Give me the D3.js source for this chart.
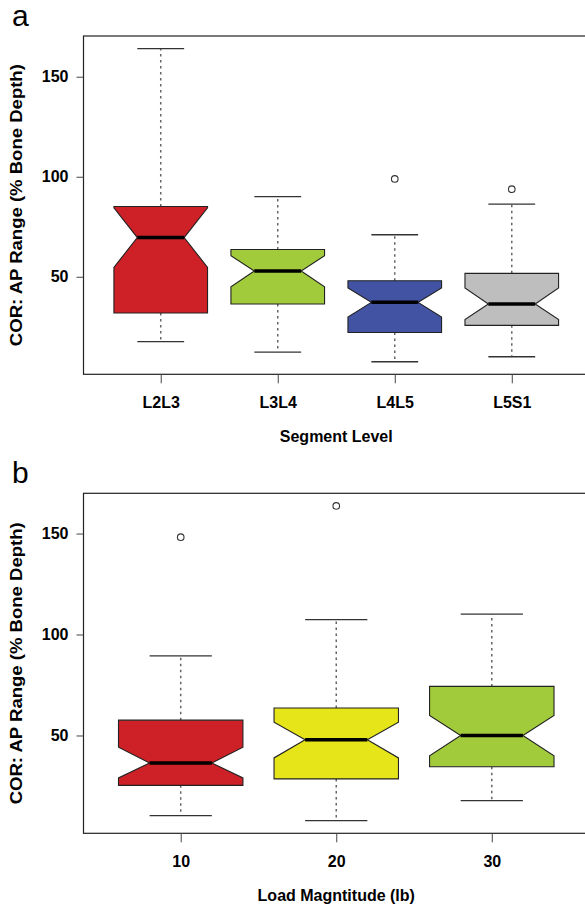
<!DOCTYPE html>
<html lang="en">
<head>
    <meta charset="UTF-8">
    <title>COR AP range boxplots</title>
    <script src="https://d3js.org/d3.v7.min.js"></script>
    <style>
        body, html { margin: 0; padding: 0; background: #fff; }
        svg text { font-family: "Liberation Sans", Arial, Helvetica, sans-serif; fill: #000; }
        .tick text { font-size: 16px; font-weight: bold; }
    </style>
</head>
<body>
<div id="chart"></div>
<script>
    // panel a: segment level
    var segLevels = ["L2L3", "L3L4", "L4L5", "L5S1"];
    var segColors = ["#CD2027", "#A2CB3B", "#4253A3", "#BEBEBE"];
    var segLowerWhisker = [17.6, 12.3, 7.5, 10.0];
    var segQ1 = [31.9, 36.4, 22.1, 25.7];
    var segLowerNotch = [54.7, 45.0, 29.9, 28.6];
    var segMedian = [69.6, 52.9, 37.2, 36.4];
    var segUpperNotch = [84.5, 60.5, 44.4, 44.4];
    var segQ3 = [85.1, 63.6, 48.0, 51.7];
    var segUpperWhisker = [164.1, 90.1, 71.0, 86.3];
    var segOutliers = [[], [], [98.9], [93.8]];

    // panel b: load magnitude
    var loadLevels = ["10", "20", "30"];
    var loadColors = ["#CD2027", "#E5E519", "#A2CB3B"];
    var loadLowerWhisker = [10.3, 7.8, 17.7];
    var loadQ1 = [25.3, 28.5, 34.5];
    var loadLowerNotch = [29.0, 38.9, 39.9];
    var loadMedian = [36.4, 47.9, 50.0];
    var loadUpperNotch = [44.2, 56.6, 59.9];
    var loadQ3 = [57.6, 63.6, 74.3];
    var loadUpperWhisker = [89.4, 107.4, 110.1];
    var loadOutliers = [[148.2], [163.7], []];

    var yTicks = [50, 100, 150];
    var yTitle = "COR: AP Range (% Bone Depth)";

    var W = 585, H = 904;
    var svg = d3.select("#chart").append("svg")
        .attr("width", W)
        .attr("height", H);

    function buildRows(levels, colors, lw, q1, ln, med, un, q3, uw, outs) {
        return levels.map((name, i) => ({
            name: name, pos: i + 1, color: colors[i],
            lw: lw[i], q1: q1[i], ln: ln[i], med: med[i], un: un[i], q3: q3[i], uw: uw[i],
            outs: outs[i]
        }));
    }

    function drawPanel(opts) {
        var rows = opts.rows;
        var allVals = [];
        rows.forEach(d => { allVals.push(d.lw, d.uw); d.outs.forEach(o => allVals.push(o)); });
        var lo = d3.min(allVals), hi = d3.max(allVals);
        var pad = (hi - lo) * 0.04;   // R style 4% extension

        var x = d3.scaleLinear().domain(opts.xDomain).range([opts.left, opts.right]);
        var y = d3.scaleLinear().domain([lo - pad, hi + pad]).range([opts.bottom, opts.top]);
        var unit = x(1) - x(0);
        var hw = 0.4 * unit;   // half box width (boxwex 0.8)

        var g = svg.append("g");

        // panel letter
        g.append("text")
            .attr("x", 12)
            .attr("y", opts.top - 10)
            .style("font-size", "30px")
            .text(opts.letter);

        var boxes = g.selectAll("g.box").data(rows).enter().append("g").attr("class", "box");

        // dashed whiskers
        ["q3", "q1"].forEach((k, j) => {
            var end = j === 0 ? "uw" : "lw";
            boxes.append("line")
                .attr("x1", d => x(d.pos)).attr("x2", d => x(d.pos))
                .attr("y1", d => y(d[k])).attr("y2", d => y(d[end]))
                .attr("stroke", "#666").attr("stroke-width", 1.5)
                .attr("stroke-dasharray", "2.5,3.5");
        });

        // staples
        ["uw", "lw"].forEach(k => {
            boxes.append("line")
                .attr("x1", d => x(d.pos) - hw / 2).attr("x2", d => x(d.pos) + hw / 2)
                .attr("y1", d => y(d[k])).attr("y2", d => y(d[k]))
                .attr("stroke", "#333").attr("stroke-width", 1.3);
        });

        // notched box
        boxes.append("path")
            .attr("d", d => {
                var c = x(d.pos);
                var pts = [
                    [c - hw, y(d.q1)], [c - hw, y(d.ln)], [c - hw / 2, y(d.med)],
                    [c - hw, y(d.un)], [c - hw, y(d.q3)], [c + hw, y(d.q3)],
                    [c + hw, y(d.un)], [c + hw / 2, y(d.med)], [c + hw, y(d.ln)],
                    [c + hw, y(d.q1)]
                ];
                return d3.line()(pts) + "Z";
            })
            .attr("fill", d => d.color)
            .attr("stroke", "#222")
            .attr("stroke-width", 1.1);

        // median
        boxes.append("line")
            .attr("x1", d => x(d.pos) - hw / 2).attr("x2", d => x(d.pos) + hw / 2)
            .attr("y1", d => y(d.med)).attr("y2", d => y(d.med))
            .attr("stroke", "#000").attr("stroke-width", 3.5);

        // outliers
        boxes.selectAll("circle").data(d => d.outs.map(o => ({ pos: d.pos, v: o })))
            .enter().append("circle")
            .attr("cx", d => x(d.pos)).attr("cy", d => y(d.v))
            .attr("r", 3.3)
            .attr("fill", "none").attr("stroke", "#333").attr("stroke-width", 1.1);

        // frame
        g.append("rect")
            .attr("x", opts.left).attr("y", opts.top)
            .attr("width", opts.right - opts.left).attr("height", opts.bottom - opts.top)
            .attr("fill", "none").attr("stroke", "#222").attr("stroke-width", 1.2);

        // y axis
        var yAxis = g.append("g")
            .attr("transform", "translate(" + opts.left + ",0)")
            .call(d3.axisLeft(y).tickValues(yTicks).tickSize(7).tickPadding(8).tickFormat(d3.format("d")));
        yAxis.select(".domain").remove();
        yAxis.selectAll(".tick line").attr("stroke", "#444");

        // x axis
        var xAxis = g.append("g")
            .attr("transform", "translate(0," + opts.bottom + ")")
            .call(d3.axisBottom(x).tickValues(rows.map(d => d.pos)).tickSize(9).tickPadding(13)
                .tickFormat((d, i) => rows[i].name));
        xAxis.select(".domain").remove();
        xAxis.selectAll(".tick line").attr("stroke", "#444");

        // axis titles
        g.append("text")
            .attr("x", (opts.left + opts.right) / 2)
            .attr("y", opts.bottom + 68)
            .attr("text-anchor", "middle")
            .style("font-size", "16px").style("font-weight", "bold")
            .text(opts.xTitle);

        var ymid = (opts.top + opts.bottom) / 2;
        g.append("text")
            .attr("transform", "translate(22," + ymid + ") rotate(-90)")
            .attr("text-anchor", "middle")
            .attr("textLength", 282)
            .attr("lengthAdjust", "spacingAndGlyphs")
            .style("font-size", "16px").style("font-weight", "bold")
            .text(yTitle);
    }

    drawPanel({
        letter: "a",
        rows: buildRows(segLevels, segColors, segLowerWhisker, segQ1, segLowerNotch, segMedian,
            segUpperNotch, segQ3, segUpperWhisker, segOutliers),
        xDomain: [0.34, 4.66],
        left: 83.5, right: 589, top: 36, bottom: 374.3,
        xTitle: "Segment Level"
    });

    drawPanel({
        letter: "b",
        rows: buildRows(loadLevels, loadColors, loadLowerWhisker, loadQ1, loadLowerNotch, loadMedian,
            loadUpperNotch, loadQ3, loadUpperWhisker, loadOutliers),
        xDomain: [0.375, 3.625],
        left: 83.5, right: 589, top: 493.3, bottom: 833.3,
        xTitle: "Load Magntitude (lb)"
    });
</script>
</body>
</html>
